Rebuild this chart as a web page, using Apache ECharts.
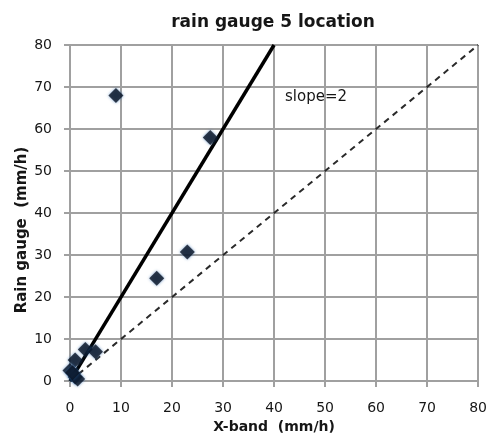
<!DOCTYPE html>
<html>
<head>
<meta charset="utf-8">
<script src="https://cdn.jsdelivr.net/npm/echarts@6/dist/echarts.min.js"></script>
<style>
  html, body { margin: 0; padding: 0; background: #fff; }
  #chart { width: 490px; height: 439px; }
</style>
</head>
<body>
<div id="chart"></div>
<script>
// Rain gauge vs X-band radar rain rates at gauge 5
const chartTitle = 'rain gauge 5 location';
const xAxisName = 'X-band  (mm/h)';
const yAxisName = 'Rain gauge  (mm/h)';
const slopeLabel = 'slope=2';

// paired observations [X-band, rain gauge]
const xband = [9, 27.5, 17, 23, 3, 5, 1, 0, 1, 1.5, 0.5];
const gauge = [68, 58, 24.5, 30.7, 7.5, 7, 5, 2.5, 1, 0.5, 2];

// reference lines
const slope2Line = [[0, 0], [40, 80]];
const oneToOneLine = [[0, 0], [80, 80]];

const axisMin = 0, axisMax = 80, axisStep = 10;

const points = xband.map((x, i) => [x, gauge[i]]);

const font = '"DejaVu Sans", "Liberation Sans", sans-serif';
const gridColor = '#a0a0a0';
const textColor = '#161616';

const axisCommon = {
  type: 'value',
  min: axisMin,
  max: axisMax,
  interval: axisStep,
  axisLine: { show: true, lineStyle: { color: gridColor, width: 2 } },
  axisTick: { show: true, inside: false, length: 6, lineStyle: { color: gridColor, width: 2 } },
  splitLine: { show: true, lineStyle: { color: gridColor, width: 2 } },
  axisLabel: { color: textColor, fontFamily: font, fontSize: 14 }
};

const chart = echarts.init(document.getElementById('chart'), null, { renderer: 'canvas' });
chart.setOption({
  animation: false,
  backgroundColor: '#ffffff',
  grid: { left: 70, right: 3, top: 45, bottom: 55 },
  xAxis: Object.assign({}, axisCommon, {
    name: xAxisName,
    nameLocation: 'middle',
    nameGap: 36,
    nameTextStyle: { color: textColor, fontFamily: font, fontSize: 14, fontWeight: 'bold' },
    axisLabel: Object.assign({}, axisCommon.axisLabel, { margin: 20 })
  }),
  yAxis: Object.assign({}, axisCommon, {
    axisLabel: Object.assign({}, axisCommon.axisLabel, { margin: 18 })
  }),
  graphic: [
    {
      type: 'text', x: 273, y: 23,
      style: { text: chartTitle, align: 'center', verticalAlign: 'middle',
               font: 'bold 17px ' + font, fill: textColor }
    },
    {
      type: 'text', x: 22, y: 230, rotation: Math.PI / 2,
      style: { text: yAxisName, align: 'center', verticalAlign: 'middle',
               font: 'bold 15px ' + font, fill: textColor }
    },
    {
      type: 'text', x: 316, y: 97,
      style: { text: slopeLabel, align: 'center', verticalAlign: 'middle',
               font: '15px ' + font, fill: textColor }
    }
  ],
  series: [
    {
      type: 'line',
      data: oneToOneLine,
      symbol: 'none',
      lineStyle: { color: '#2a2a2a', width: 2, type: [6, 5] },
      z: 2
    },
    {
      type: 'line',
      data: slope2Line,
      symbol: 'none',
      lineStyle: { color: '#000000', width: 3.5 },
      z: 3
    },
    {
      type: 'scatter',
      data: points,
      symbol: 'diamond',
      symbolSize: 15,
      itemStyle: { color: '#0a1322', shadowColor: 'rgba(40,100,170,0.8)', shadowBlur: 3 },
      z: 4
    }
  ]
});
</script>
</body>
</html>
